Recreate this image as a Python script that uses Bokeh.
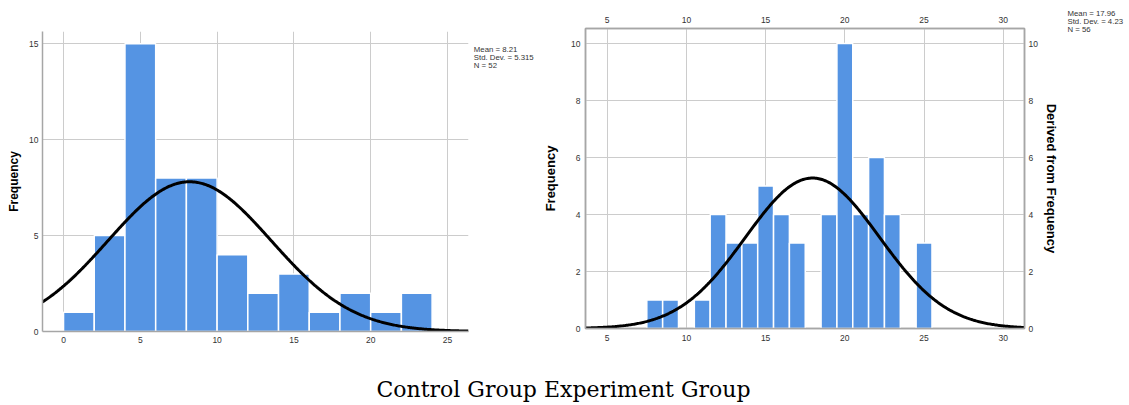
import numpy as np
from bokeh.plotting import figure
from bokeh.models import LinearAxis, FixedTicker, Label, Range1d
from bokeh.layouts import column, row
from bokeh.embed import file_html
from bokeh.resources import INLINE

# ---------------- data ----------------
# Control group (left histogram, bin width 2)
ctrl_bin_left = [0, 2, 4, 6, 8, 10, 12, 14, 16, 18, 20, 22]
ctrl_counts = [1, 5, 15, 8, 8, 4, 2, 3, 1, 2, 1, 2]
ctrl_bin_width = 2
ctrl_mean, ctrl_sd, ctrl_n = 8.21, 5.315, 52
ctrl_xticks = [0, 5, 10, 15, 20, 25]
ctrl_yticks = [0, 5, 10, 15]
ctrl_xlim = (-1.37, 26.37)
ctrl_ylim = (0, 15.64)

# Experiment group (right histogram, bin width 1, bins centred on integers)
exp_centres = [8, 9, 11, 12, 13, 14, 15, 16, 17, 19, 20, 21, 22, 23, 25]
exp_counts = [1, 1, 1, 4, 3, 3, 5, 4, 3, 4, 10, 4, 6, 4, 3]
exp_bin_width = 1
exp_mean, exp_sd, exp_n = 17.96, 4.23, 56
exp_xticks = [5, 10, 15, 20, 25, 30]
exp_yticks = [0, 2, 4, 6, 8, 10]
exp_xlim = (3.63, 31.34)
exp_ylim = (0, 10.53)

caption = "Control Group Experiment Group"

BAR = "#5594e3"
GRID = "#cccccc"
AX = "#a6a6a6"
TICK_TXT = "#333333"
FONT = "Liberation Sans"
ROW_H = 353


def normal_curve(mean, sd, n, bw, lo, hi):
    xs = np.linspace(lo, hi, 400)
    ys = n * bw / (sd * np.sqrt(2 * np.pi)) * np.exp(-0.5 * ((xs - mean) / sd) ** 2)
    return xs, ys


def style_axis(ax, ticks, standoff):
    ax.ticker = FixedTicker(ticks=ticks)
    ax.major_tick_line_color = None
    ax.minor_tick_line_color = None
    ax.major_tick_out = 0
    ax.major_tick_in = 0
    ax.minor_tick_out = 0
    ax.minor_tick_in = 0
    ax.axis_line_color = AX
    ax.axis_line_width = 1.5
    ax.major_label_text_font = FONT
    ax.major_label_text_font_size = "8.5px"
    ax.major_label_text_color = TICK_TXT
    ax.major_label_standoff = standoff
    ax.axis_label_text_font = FONT
    ax.axis_label_text_font_style = "bold"
    ax.axis_label_text_color = "black"


def blank(width, height):
    f = figure(width=width, height=height, x_range=Range1d(0, 1), y_range=Range1d(0, 1),
               output_backend="svg", toolbar_location=None,
               x_axis_location=None, y_axis_location=None, min_border=0)
    f.outline_line_color = None
    f.grid.visible = False
    return f


def stat_label(fig, x, y, t):
    fig.add_layout(Label(x=x, y=y, x_units="screen", y_units="screen", text=t,
                         text_font=FONT, text_font_size="7.8px", text_color=TICK_TXT,
                         text_baseline="top", text_align="left"))


# ---------------- left chart ----------------
p1 = figure(frame_width=426, frame_height=300, x_range=Range1d(*ctrl_xlim), y_range=Range1d(*ctrl_ylim),
            output_backend="svg", toolbar_location=None,
            min_border_left=42, min_border_right=4, min_border_top=31, min_border_bottom=22)
p1.outline_line_color = None
p1_bottom = p1.below[0]
p1_left = p1.left[0]
style_axis(p1_bottom, ctrl_xticks, 5)
style_axis(p1_left, ctrl_yticks, 4)
p1_left.axis_label = "Frequency"
p1_left.axis_label_text_font_size = "12px"
p1_left.axis_label_standoff = 5
p1.xgrid.ticker = FixedTicker(ticks=ctrl_xticks)
p1.ygrid.ticker = FixedTicker(ticks=ctrl_yticks)
p1.grid.grid_line_color = GRID
p1.grid.grid_line_width = 1

left_edges = np.array(ctrl_bin_left, dtype=float)
p1.quad(left=left_edges, right=left_edges + ctrl_bin_width, bottom=0, top=ctrl_counts,
        fill_color=BAR, line_color="white", line_width=1.5)
cx, cy = normal_curve(ctrl_mean, ctrl_sd, ctrl_n, ctrl_bin_width, *ctrl_xlim)
p1.line(cx, cy, line_color="black", line_width=3)

s1 = blank(68, ROW_H)
ctrl_stats = [f"Mean = {ctrl_mean}", f"Std. Dev. = {ctrl_sd}", f"N = {ctrl_n}"]
for i, t in enumerate(ctrl_stats):
    stat_label(s1, 1.3, ROW_H - 44 - 8 * i, t)

# ---------------- right chart ----------------
p2 = figure(frame_width=439, frame_height=300, x_range=Range1d(*exp_xlim), y_range=Range1d(*exp_ylim),
            output_backend="svg", toolbar_location=None,
            min_border_left=40, min_border_right=40, min_border_top=28, min_border_bottom=25)
p2.outline_line_color = AX
p2.outline_line_width = 1.5
p2_bottom = p2.below[0]
p2_left = p2.left[0]
top_ax = LinearAxis()
right_ax = LinearAxis()
p2.add_layout(top_ax, "above")
p2.add_layout(right_ax, "right")
style_axis(p2_bottom, exp_xticks, 6)
style_axis(p2_left, exp_yticks, 5)
style_axis(top_ax, exp_xticks, 6)
style_axis(right_ax, exp_yticks, 4)
p2_left.axis_label = "Frequency"
p2_left.axis_label_text_font_size = "13px"
p2_left.axis_label_standoff = 10
right_ax.axis_label = "Derived from Frequency"
right_ax.axis_label_text_font_size = "13px"
right_ax.axis_label_standoff = 3
p2.xgrid.ticker = FixedTicker(ticks=exp_xticks)
p2.ygrid.ticker = FixedTicker(ticks=exp_yticks)
p2.grid.grid_line_color = GRID
p2.grid.grid_line_width = 1

centres = np.array(exp_centres, dtype=float)
p2.quad(left=centres - exp_bin_width / 2, right=centres + exp_bin_width / 2, bottom=0, top=exp_counts,
        fill_color=BAR, line_color="white", line_width=1.5)
ex, ey = normal_curve(exp_mean, exp_sd, exp_n, exp_bin_width, *exp_xlim)
p2.line(ex, ey, line_color="black", line_width=3)

s2 = blank(62, ROW_H)
exp_stats = [f"Mean = {exp_mean}", f"Std. Dev. = {exp_sd}", f"N = {exp_n}"]
for i, t in enumerate(exp_stats):
    stat_label(s2, 3, ROW_H - 8 - 8 * i, t)

# ---------------- caption ----------------
p3 = blank(1125, 49)
p3.add_layout(Label(x=563, y=13, x_units="screen", y_units="screen", text=caption,
                    text_font="DejaVu Serif", text_font_size="22px", text_color="black",
                    text_align="center", text_baseline="alphabetic"))

layout = column(row(column(p1), column(s1), column(p2), column(s2)), p3)
open("out.html", "w").write(file_html(layout, INLINE))
